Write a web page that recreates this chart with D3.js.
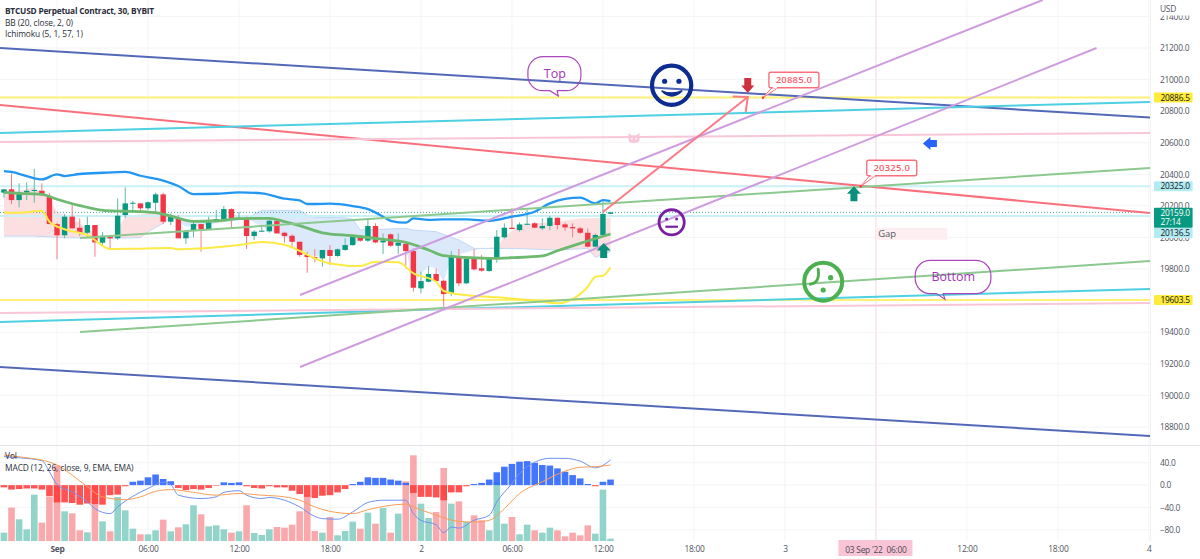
<!DOCTYPE html>
<html>
<head>
<meta charset="utf-8">
<title>BTCUSD Perpetual Contract, 30, BYBIT</title>
<script src="https://cdn.jsdelivr.net/npm/d3@7/dist/d3.min.js"></script>
<style>
  html, body { margin: 0; padding: 0; background: #fff; }
  svg { display: block; }
  text { font-family: "Open Sans", Roboto, sans-serif; }
</style>
</head>
<body>
<svg id="chart" width="1200" height="559"></svg>
<script>
// Thirty-minute bars, numbered from the 1 Sep 00:00 session open.
const firstBar = -7;
const opens = [
  20284,20305,20237,20286,20296,20296,20258,20085,20014,20132,
  20062,20030,20079,19967,20011,19995,20142,20216,20216,20185,
  20220,20273,20100,20117,19995,20043,20085,20047,20111,20117,
  20180,20117,20117,20009,20037,20039,20104,20030,20011,19973,
  19889,19876,19868,19921,19883,19921,19952,20001,19980,20073,
  19969,20020,19948,19959,19914,19678,19720,19769,19726,19646,
  19872,19710,19864,19805,19788,19874,20001,20062,20047,20083,
  20090,20058,20073,20125,20083,20066,20058,20030,19942,20016,20150];
const highs = [
  20305,20406,20343,20349,20434,20343,20280,20094,20149,20206,
  20121,20132,20079,20033,20016,20248,20318,20231,20216,20227,
  20284,20284,20153,20142,20047,20106,20085,20132,20174,20199,
  20185,20163,20132,20047,20079,20115,20106,20037,20020,19973,
  19910,19927,19921,19952,19931,19995,20016,20016,20115,20090,
  20026,20026,20026,19963,19931,19783,19819,19805,19731,19914,
  19927,19868,19927,19889,19868,20047,20090,20185,20096,20178,
  20096,20121,20136,20127,20094,20090,20068,20058,20026,20233,20163];
const lows = [
  20252,20212,20191,20237,20220,20269,20085,19862,19995,20058,
  20009,20001,19878,19952,19931,19984,20125,20174,20168,20174,
  20163,20085,20079,19995,19959,20001,19910,20047,20100,20111,
  20064,20111,19927,19984,20037,20030,20026,19967,19942,19878,
  19777,19843,19815,19826,19878,19916,19948,19973,19973,19963,
  19895,19942,19895,19805,19657,19646,19716,19720,19562,19629,
  19693,19705,19790,19783,19783,19840,19995,20052,20037,20079,
  20058,20047,20047,20052,20043,20001,20022,19938,19938,20011,20147];
const closes = [
  20305,20237,20286,20296,20301,20269,20085,20014,20132,20058,
  20030,20079,19969,20011,19995,20138,20216,20220,20185,20223,
  20273,20100,20132,19995,20039,20085,20052,20096,20117,20180,
  20121,20125,20009,20037,20043,20106,20026,20009,19973,19889,
  19876,19868,19921,19883,19925,19952,20005,19980,20073,19969,
  19980,19948,19967,19914,19682,19724,19769,19724,19642,19878,
  19710,19864,19798,19790,19864,20005,20062,20054,20083,20087,
  20062,20073,20125,20079,20064,20058,20030,19942,20016,20149,20159];
const volumes = [
  25,100,65,35,139,55,132,227,89,83,
  32,26,167,59,29,132,92,37,20,20,
  32,64,29,41,50,107,80,44,47,35,
  25,29,107,24,18,35,42,40,49,89,
  137,30,25,72,17,30,58,37,85,52,
  99,25,82,179,257,112,69,87,219,112,
  119,57,77,62,32,177,52,72,20,49,
  32,25,40,32,14,25,17,47,22,154,7];
const macdHist = [
  -4,-8,-7,-6,-6,-8,-20,-31,-31,-32,
  -35,-33,-34,-35,-18,-17,-2,6,8,14,
  19,11,7,-5,-9,-7,-8,-5,-1,5,
  4,5,-2,-5,-6,-2,-4,-4,-10,-16,
  -21,-23,-19,-18,-13,-7,2,6,14,13,
  13,10,8,4,-14,-21,-21,-22,-27,-13,
  -13,-2,2,4,10,23,33,38,42,43,
  40,36,35,30,24,18,12,2,-2,6,10];

// Indicator curves as [bar, value] pairs.
const bbUpper = [[-7,20421],[-6,20415],[-4,20389],[-2,20368],[0,20400],[1,20389],[3,20402],[6,20410],[9,20415],[11,20391],[14,20360],[16,20326],[18,20275],[21,20277],[24,20286],[27,20280],[30,20246],[32,20235],[33,20212],[34,20212],[36,20214],[39,20199],[41,20180],[43,20132],[44,20106],[46,20094],[47,20121],[49,20111],[51,20115],[54,20115],[57,20106],[60,20132],[63,20163],[65,20216],[67,20244],[69,20252],[71,20216],[72,20237],[73,20231]];
const bbBasis = [[-7,20286],[-5,20280],[-2,20273],[0,20242],[3,20202],[7,20168],[10,20166],[13,20157],[15,20136],[18,20102],[21,20106],[24,20119],[28,20121],[30,20100],[32,20075],[35,20030],[39,20011],[43,19988],[46,19969],[49,19921],[51,19885],[57,19868],[60,19872],[64,19883],[66,19916],[69,19963],[73,20022]];
const bbLower = [[-7,20159],[-5,20157],[-2,20170],[-1,20100],[1,20052],[4,20016],[7,19927],[10,19929],[15,19933],[16,19925],[19,19931],[24,19952],[27,19971],[30,19954],[32,19916],[34,19868],[36,19836],[40,19819],[42,19847],[45,19843],[47,19773],[50,19720],[51,19661],[53,19640],[58,19621],[63,19600],[66,19583],[70,19688],[71,19752],[72,19758],[73,19811]];
const leadOne = [[-7,20296],[-5,20296],[-3,20318],[-2,20284],[-1,20237],[0,20163],[2,20121],[4,20058],[6,19995],[7,19995],[8,20047],[9,20136],[14,20163],[15,20132],[17,20068],[20,20079],[23,20121],[25,20121],[28,20047],[31,19984],[33,19889],[35,19878],[38,19931],[41,20005],[43,19984],[46,19942],[47,19688],[48,19773],[49,19815],[50,19805],[51,19720],[52,19878],[55,19921],[58,19942],[59,20005],[61,20079],[63,20090],[66,20100],[69,20121],[73,20125]];
const leadTwo = [[-7,20009],[-3,20009],[1,19999],[6,19995],[11,19999],[12,20037],[14,20090],[15,20125],[20,20090],[23,20106],[25,20121],[27,20172],[32,20172],[33,20142],[34,20128],[38,20125],[39,20115],[40,20047],[46,20058],[47,20047],[50,20037],[53,19984],[55,19931],[57,19931],[60,19931],[66,19921],[70,19931],[71,19874],[72,19895],[73,19910]];
const macdLine = [[-7,51],[-5,49],[-2,44],[-1,24],[0,1],[2,-12],[4,-30],[5,-42],[7,-51],[8,-39],[10,-20],[12,-6],[14,5],[15,1],[16,-18],[19,-24],[21,-21],[22,-13],[24,-10],[25,-18],[27,-24],[28,-22],[30,-27],[32,-39],[34,-56],[35,-60],[37,-61],[39,-48],[41,-31],[43,-27],[46,-27],[47,-51],[48,-63],[50,-71],[51,-85],[52,-75],[53,-77],[55,-63],[57,-54],[58,-30],[60,3],[61,21],[63,41],[65,48],[67,48],[69,43],[71,31],[73,45]];
const signalLine = [[-7,54],[-4,49],[-2,45],[0,36],[2,18],[4,-3],[6,-21],[9,-26],[11,-21],[13,-11],[15,-8],[18,-13],[21,-18],[24,-15],[27,-18],[30,-21],[32,-27],[34,-39],[36,-47],[39,-51],[41,-44],[46,-34],[47,-39],[50,-54],[53,-65],[55,-66],[57,-63],[59,-42],[61,-15],[64,6],[67,25],[69,32],[71,33],[73,36]];

// Hand-drawn studies: [bar, price, bar, price, colour].
const trendLines = [
  [-7.52,21200,144.15,20760,"#5468b8"],
  [-7.52,19180,144.15,18743,"#5468b8"],
  [-7.52,20839,144.15,20155,"#f9707c"],
  [-7.52,20662,144.15,20858,"#4dd0e1"],
  [-7.52,19465,144.15,19674,"#4dd0e1"],
  [-7.52,20605,144.15,20662,"#f8c6d8"],
  [-7.52,19522,144.15,19585,"#f8c6d8"],
  [3.03,19997,144.15,20440,"#8cc98f"],
  [3.03,19401,144.15,19851,"#8cc98f"],
  [32.05,19636,130,21504,"#cf9ce0"],
  [32.05,19180,137.1,21200,"#cf9ce0"]];
const levelLines = [[20886.5,"#fff176"],[19603.5,"#fff176"],[20325,"#c9f1f6"],[20136.5,"#c9f1f6"]];
const moveArrow = [72,20161,91.1,20890];
const gapZone = [108.1,20062,117.4,19986];

const priceTicks = [21400,21200,21000,20800,20600,20400,20200,20000,19800,19600,19400,19200,19000,18800];
const macdTicks = [40,0,-40,-80];
const timeTicks = [0,12,24,36,48,60,72,84,96,108,120,132,144];
const timeLabels = ["Sep","06:00","12:00","18:00","2","06:00","12:00","18:00","3","06:00","12:00","18:00","4"];
const cursorBar = 108;
const priceTags = [
  {value:20886.5, label:"20886.5", fill:"#ffeb3b", ink:"#131722", dy:0},
  {value:20325,   label:"20325.0", fill:"#b2ebf2", ink:"#131722", dy:0},
  {value:20136.5, label:"20136.5", fill:"#b2ebf2", ink:"#131722", dy:17},
  {value:19603.5, label:"19603.5", fill:"#ffeb3b", ink:"#131722", dy:0}];
const lastClose = closes[closes.length - 1];

const W = 1200, H = 559, paneRight = 1150, priceBottom = 445, timeTop = 541;
const gridColor = "#f3f4f6", axisInk = "#50535e";
const up = "#089981", down = "#f23645";
const scaleFont = {family: "Roboto, sans-serif", size: 8.4, spacing: -0.25};

const svg = d3.select("#chart");
const x = d3.scaleLinear([-7.52, 144.15], [0, paneRight]);
const y = d3.scaleLinear([18800, 21200], [427, 48]);
const yMacd = d3.scaleLinear([-80, 40], [529.8, 462.8]);
const yVol = d3.scaleLinear([0, 257], [timeTop, timeTop - 85.7]);
const bars = d3.range(opens.length).map(i => ({
  i: firstBar + i, o: opens[i], h: highs[i], l: lows[i], c: closes[i], v: volumes[i], m: macdHist[i]
}));

const defs = svg.append("defs");
defs.append("clipPath").attr("id", "pricePane")
  .append("rect").attr("width", paneRight).attr("height", priceBottom);
defs.append("clipPath").attr("id", "scaleClip")
  .append("rect").attr("x", -10).attr("y", 15.6).attr("width", 50).attr("height", H);

// Grid
const grid = svg.append("g").attr("stroke", gridColor).attr("stroke-width", 1);
grid.selectAll("line.h").data(priceTicks).join("line").attr("class", "h")
  .attr("x1", 0).attr("x2", paneRight).attr("y1", d => y(d)).attr("y2", d => y(d));
grid.selectAll("line.m").data(macdTicks).join("line").attr("class", "m")
  .attr("x1", 0).attr("x2", paneRight).attr("y1", d => yMacd(d)).attr("y2", d => yMacd(d));
grid.selectAll("line.v").data(timeTicks).join("line").attr("class", "v")
  .attr("x1", d => x(d)).attr("x2", d => x(d)).attr("y1", 0).attr("y2", timeTop);

// Cursor line on 03 Sep 06:00
svg.append("line").attr("x1", x(cursorBar)).attr("x2", x(cursorBar)).attr("y1", 0).attr("y2", timeTop)
  .attr("stroke", "#fbdde6").attr("stroke-width", 1);

const pricePane = svg.append("g").attr("clip-path", "url(#pricePane)");

// Ichimoku cloud
const pairX = a => a.map(d => d[0]), pairV = a => a.map(d => d[1]);
const spanOne = d3.scaleLinear(pairX(leadOne), pairV(leadOne));
const spanTwo = d3.scaleLinear(pairX(leadTwo), pairV(leadTwo));
const cloudX = d3.range(firstBar, 73.01, 0.25);
const pinkCloud = d3.area().x(d => x(d)).y0(d => y(spanTwo(d))).y1(d => y(Math.max(spanOne(d), spanTwo(d))));
const blueCloud = d3.area().x(d => x(d)).y0(d => y(spanTwo(d))).y1(d => y(Math.min(spanOne(d), spanTwo(d))));
pricePane.append("path").attr("d", pinkCloud(cloudX)).attr("fill", "#fcdfe1");
pricePane.append("path").attr("d", blueCloud(cloudX)).attr("fill", "#dbe9fb");
const curve = (scale) => d3.line().x(d => x(d[0])).y(d => scale(d[1]));
pricePane.append("path").attr("d", curve(y)(leadTwo)).attr("fill", "none")
  .attr("stroke", "#c3d9f6").attr("stroke-width", 1);

// Levels and last price marker
pricePane.selectAll("line.level").data(levelLines).join("line").attr("class", "level")
  .attr("x1", 0).attr("x2", paneRight)
  .attr("y1", d => y(d[0])).attr("y2", d => y(d[0]))
  .attr("stroke", d => d[1]).attr("stroke-width", 2);
pricePane.append("line").attr("x1", 0).attr("x2", paneRight)
  .attr("y1", y(lastClose)).attr("y2", y(lastClose))
  .attr("stroke", up).attr("stroke-width", 1).attr("stroke-dasharray", "1 2").attr("opacity", 0.75);

// Candles
const bw = 5.4;
const candle = pricePane.selectAll("g.candle").data(bars).join("g").attr("class", "candle");
candle.append("line")
  .attr("x1", d => x(d.i)).attr("x2", d => x(d.i))
  .attr("y1", d => y(d.h)).attr("y2", d => y(d.l))
  .attr("stroke", d => d.c >= d.o ? "#63b9a8" : "#f67c86").attr("stroke-width", 1);
candle.append("rect")
  .attr("x", d => x(d.i) - bw / 2).attr("width", bw)
  .attr("y", d => y(Math.max(d.o, d.c)))
  .attr("height", d => Math.max(1, Math.abs(y(d.o) - y(d.c))))
  .attr("fill", d => d.c >= d.o ? up : down);

// Bollinger bands
const lineSmooth = d3.line().x(d => x(d[0])).y(d => y(d[1])).curve(d3.curveMonotoneX);
[[bbUpper,"#2196f3",2.3],[bbLower,"#fdea45",2],[bbBasis,"#6cb96f",2.8]].forEach(([data,color,w]) => {
  pricePane.append("path").attr("d", lineSmooth(data)).attr("fill", "none")
    .attr("stroke", color).attr("stroke-width", w).attr("stroke-linejoin", "round");
});

// Trend lines
pricePane.selectAll("line.trend").data(trendLines).join("line").attr("class", "trend")
  .attr("x1", d => x(d[0])).attr("y1", d => y(d[1]))
  .attr("x2", d => x(d[2])).attr("y2", d => y(d[3]))
  .attr("stroke", d => d[4]).attr("stroke-width", 2);

// Gap zone
pricePane.append("rect")
  .attr("x", x(gapZone[0])).attr("y", y(gapZone[1]))
  .attr("width", x(gapZone[2]) - x(gapZone[0])).attr("height", y(gapZone[3]) - y(gapZone[1]))
  .attr("fill", "#fdeff1");
pricePane.append("text").attr("x", x(gapZone[0]) + 1.5).attr("y", y(gapZone[1]) + 9.5)
  .attr("font-size", 9.5).attr("fill", "#55575e").text("Gap");

// Forecast arrow with open head
const arrowGroup = pricePane.append("g").attr("stroke", "#fb7b86").attr("stroke-width", 2).attr("fill", "none");
const tipX = x(moveArrow[2]), tipY = y(moveArrow[3]);
arrowGroup.append("line").attr("x1", x(moveArrow[0])).attr("y1", y(moveArrow[1])).attr("x2", tipX).attr("y2", tipY);
arrowGroup.append("path").attr("d", `M${tipX - 15},${tipY - 0.5}L${tipX},${tipY}L${tipX - 2},${tipY + 15}`);

// Block arrows, each placed by its tip
function blockArrow(bar, price, dir, color) {
  const tx = x(bar), ty = y(price);
  const pts = dir === "up"
    ? [[0,0],[7,7.5],[3.5,7.5],[3.5,15],[-3.5,15],[-3.5,7.5],[-7,7.5]]
    : dir === "down"
    ? [[0,0],[-6.5,-7.5],[-3.5,-7.5],[-3.5,-15],[3.5,-15],[3.5,-7.5],[6.5,-7.5]]
    : [[0,0],[7.5,-6.5],[7.5,-3.5],[14,-3.5],[14,3.5],[7.5,3.5],[7.5,6.5]];
  pricePane.append("polygon").attr("points", pts.map(p => [tx + p[0], ty + p[1]].join(",")).join(" ")).attr("fill", color);
}
blockArrow(91.1, 20915, "down", "#cf2f3e");
blockArrow(105.1, 20325, "up", "#0b8f7c");
blockArrow(72.1, 19965, "up", "#0b8f7c");
blockArrow(114.2, 20595, "left", "#2962ff");

// Small cat head marker on the pink line
{
  const cx = x(76.1), cy = y(20630);
  pricePane.append("path")
    .attr("d", `M${cx-5.5},${cy-5}L${cx-2.5},${cy-2.8}L${cx+2.5},${cy-2.8}L${cx+5.5},${cy-5}L${cx+5.5},${cy+1.5}Q${cx+5.5},${cy+5} ${cx},${cy+5}Q${cx-5.5},${cy+5} ${cx-5.5},${cy+1.5}Z`)
    .attr("fill", "#f8c6d8");
  pricePane.append("circle").attr("cx", cx - 2.2).attr("cy", cy + 0.8).attr("r", 0.9).attr("fill", "#fff");
  pricePane.append("circle").attr("cx", cx + 2.2).attr("cy", cy + 0.8).attr("r", 0.9).attr("fill", "#fff");
}

// Price call-outs
function callout(bar, price, text, boxDx, boxDy) {
  const px = x(bar), py = y(price);
  const g = pricePane.append("g");
  const bx = px + boxDx, by = py + boxDy, bWidth = 50, bHeight = 15.5;
  g.append("path").attr("d", `M${px},${py}L${bx + 3},${by + bHeight}L${bx + 9},${by + bHeight}Z`)
    .attr("fill", "#fff").attr("stroke", "#f9707c").attr("stroke-width", 1);
  g.append("rect").attr("x", bx).attr("y", by).attr("width", bWidth).attr("height", bHeight).attr("rx", 2)
    .attr("fill", "#fff").attr("stroke", "#f9707c").attr("stroke-width", 1.4);
  g.append("line").attr("x1", bx + 4).attr("x2", bx + 8).attr("y1", by + bHeight).attr("y2", by + bHeight)
    .attr("stroke", "#fff").attr("stroke-width", 1.6);
  g.append("circle").attr("cx", px).attr("cy", py).attr("r", 1.2).attr("fill", "#f23645");
  g.append("text").attr("x", bx + bWidth / 2).attr("y", by + bHeight / 2 + 3.2).attr("text-anchor", "middle")
    .attr("font-size", 9.5).attr("font-weight", 600).attr("letter-spacing", 0.2).attr("fill", "#f9606d").text(text);
}
callout(93.1, 20885, "20885.0", 6, -25.5);
callout(106, 20325, "20325.0", 6, -26);

// Speech bubbles, placed by the tip of the tail
function bubble(bar, price, text, left, right, top, bottom, tail0, tail1, textDx) {
  const tx = x(bar), ty = y(price);
  const x0 = tx + left, x1 = tx + right, y0 = ty + top, y1 = ty + bottom, r = 15;
  const p = d3.path();
  p.moveTo(x0 + r, y0);
  p.lineTo(x1 - r, y0);
  p.arcTo(x1, y0, x1, y0 + r, r);
  p.lineTo(x1, y1 - r);
  p.arcTo(x1, y1, x1 - r, y1, r);
  p.lineTo(tx + tail1, y1);
  p.lineTo(tx, ty);
  p.lineTo(tx + tail0, y1);
  p.lineTo(x0 + r, y1);
  p.arcTo(x0, y1, x0, y1 - r, r);
  p.lineTo(x0, y0 + r);
  p.arcTo(x0, y0, x0 + r, y0, r);
  p.closePath();
  pricePane.append("path").attr("d", p.toString()).attr("fill", "none")
    .attr("stroke", "#ab47bc").attr("stroke-width", 1.2);
  pricePane.append("text").attr("x", tx + textDx).attr("y", (y0 + y1) / 2 + 4.4)
    .attr("text-anchor", "middle").attr("font-size", 12.5).attr("fill", "#a234b8").text(text);
}
bubble(66.1, 20896, "Top", -30.3, 22.7, -39.3, -5.3, -8.3, -1, -3.3);
bubble(117.1, 19608, "Bottom", -29.7, 46, -39, -5.8, -8.3, -1.7, 8.3);

// Faces
function face(bar, price, r, sw, color) {
  const g = pricePane.append("g").attr("transform", `translate(${x(bar)},${y(price)})`);
  g.append("circle").attr("r", r).attr("fill", "none").attr("stroke", color).attr("stroke-width", sw);
  return g;
}
const happy = face(81.06, 20964, 19.6, 4.2, "#0d2c91");
[-7, 7.3].forEach(dx => happy.append("circle").attr("cx", dx).attr("cy", -4).attr("r", 2.6).attr("fill", "#0d2c91"));
happy.append("path").attr("d", "M-10,5.5Q0,16 10.6,5.5Q0,10 -10,5.5Z").attr("fill", "#0d2c91")
  .attr("stroke", "#0d2c91").attr("stroke-width", 1.4);
const plain = face(81.06, 20096, 12.6, 2.8, "#7b1fa2");
[-5, 5].forEach(dx => plain.append("circle").attr("cx", dx).attr("cy", -3.3).attr("r", 1.5).attr("fill", "#7b1fa2"));
plain.append("line").attr("x1", -6.3).attr("x2", 6.3).attr("y1", 4.4).attr("y2", 4.4)
  .attr("stroke", "#7b1fa2").attr("stroke-width", 2.2);
const sour = face(101.05, 19720, 19, 4, "#4caf50");
sour.append("circle").attr("cx", 7.4).attr("cy", -4).attr("r", 2.6).attr("fill", "#4caf50");
sour.append("circle").attr("cx", 0).attr("cy", 8.3).attr("r", 2.6).attr("fill", "#4caf50");
sour.append("path").attr("d", "M-13,2.5Q-3,1 -5,-12.5").attr("fill", "none").attr("stroke", "#4caf50")
  .attr("stroke-width", 2.8).attr("stroke-linecap", "round");

// Volume
const volumeWidth = 6.6;
svg.append("g").selectAll("rect").data(bars).join("rect")
  .attr("x", d => x(d.i) - volumeWidth / 2).attr("width", volumeWidth)
  .attr("y", d => yVol(d.v)).attr("height", d => yVol(0) - yVol(d.v))
  .attr("fill", d => d.c >= d.o ? "#92d3ca" : "#f9a8ac");

// MACD histogram and lines
svg.append("g").selectAll("rect").data(bars).join("rect")
  .attr("x", d => x(d.i) - volumeWidth / 2).attr("width", volumeWidth)
  .attr("y", d => Math.min(yMacd(d.m), yMacd(0))).attr("height", d => Math.abs(yMacd(d.m) - yMacd(0)))
  .attr("fill", d => d.m >= 0 ? "#2962ff" : "#ff3b3b").attr("fill-opacity", 0.88);
const macdPath = d3.line().x(d => x(d[0])).y(d => yMacd(d[1])).curve(d3.curveMonotoneX);
svg.append("path").attr("d", macdPath(macdLine)).attr("fill", "none").attr("stroke", "#6f92f2").attr("stroke-width", 1);
svg.append("path").attr("d", macdPath(signalLine)).attr("fill", "none").attr("stroke", "#fb9d55").attr("stroke-width", 1);

// Pane separator and scale edge
svg.append("line").attr("x1", 0).attr("x2", W).attr("y1", priceBottom + 0.5).attr("y2", priceBottom + 0.5)
  .attr("stroke", "#e3e5ec");
svg.append("line").attr("x1", paneRight + 0.5).attr("x2", paneRight + 0.5).attr("y1", 0).attr("y2", timeTop)
  .attr("stroke", "#f0f2f6");

// Axes
const scaleText = sel => sel.attr("font-size", scaleFont.size).attr("letter-spacing", scaleFont.spacing)
  .attr("font-family", scaleFont.family);
function styleAxis(g) {
  g.select(".domain").remove();
  g.selectAll(".tick line").remove();
  g.selectAll("text").call(scaleText).attr("fill", axisInk);
}
svg.append("g").attr("transform", `translate(1160,0)`).attr("clip-path", "url(#scaleClip)")
  .call(d3.axisRight(y).tickValues(priceTicks).tickSize(0).tickPadding(0).tickFormat(d3.format(".1f")))
  .call(styleAxis);
svg.append("g").attr("transform", `translate(1160,0)`)
  .call(d3.axisRight(yMacd).tickValues(macdTicks).tickSize(0).tickPadding(0).tickFormat(d => d3.format(".1f")(d).replace("-", "\u2212")))
  .call(styleAxis);
const xAxis = svg.append("g").attr("transform", `translate(0,${timeTop})`)
  .call(d3.axisBottom(x).tickValues(timeTicks.filter(t => t !== cursorBar)).tickSize(0).tickPadding(5)
    .tickFormat(d => timeLabels[timeTicks.indexOf(d)]))
  .call(styleAxis);
xAxis.selectAll("text").attr("font-weight", d => timeLabels[timeTicks.indexOf(d)] === "Sep" ? 700 : 400);
svg.append("text").attr("x", 1160).attr("y", 11.5).attr("fill", axisInk).call(scaleText).text("USD");

// Cursor date tag
svg.append("rect").attr("x", x(cursorBar) - 37.5).attr("y", 540).attr("width", 74).attr("height", 16)
  .attr("fill", "#f8c4d6");
svg.append("text").attr("x", x(cursorBar)).attr("y", 553).attr("text-anchor", "middle")
  .attr("fill", "#4a4c57").call(scaleText).attr("xml:space", "preserve").text("03 Sep '22  06:00");

// Price tags on the scale
const tags = svg.append("g").selectAll("g").data(priceTags).join("g")
  .attr("transform", d => `translate(1154,${y(d.value) + d.dy - 5})`);
tags.append("rect").attr("width", 38.6).attr("height", 10).attr("rx", 1).attr("fill", d => d.fill);
tags.append("text").attr("x", 6.5).attr("y", 8).call(scaleText).attr("fill", d => d.ink).text(d => d.label);
const liveTag = svg.append("g").attr("transform", `translate(1154,${y(lastClose) - 4.7})`);
liveTag.append("rect").attr("width", 38.6).attr("height", 20).attr("rx", 1).attr("fill", up);
liveTag.append("text").attr("x", 6.5).attr("y", 8.2).call(scaleText)
  .attr("font-weight", 500).attr("fill", "#fff").text(d3.format(".1f")(lastClose));
liveTag.append("text").attr("x", 6.5).attr("y", 17.6).call(scaleText)
  .attr("fill", "#fff").text("27:14");

// Legends
const legendRows = [
  ["BTCUSD Perpetual Contract, 30, BYBIT", 5, 14, 700, 8.3, -0.2],
  ["BB (20, close, 2, 0)", 5, 26, 400, 8.4, -0.1],
  ["Ichimoku (5, 1, 57, 1)", 5, 37, 400, 8.4, -0.1],
  ["Vol", 5, 459, 400, 8.4, -0.1],
  ["MACD (12, 26, close, 9, EMA, EMA)", 5, 471, 400, 8.4, -0.1]];
svg.append("g").selectAll("text").data(legendRows).join("text")
  .attr("x", d => d[1]).attr("y", d => d[2]).attr("font-weight", d => d[3])
  .attr("letter-spacing", d => d[5])
  .attr("font-family", "Roboto, sans-serif").attr("font-size", d => d[4]).attr("fill", "#2a2e39").text(d => d[0]);
</script>
</body>
</html>
